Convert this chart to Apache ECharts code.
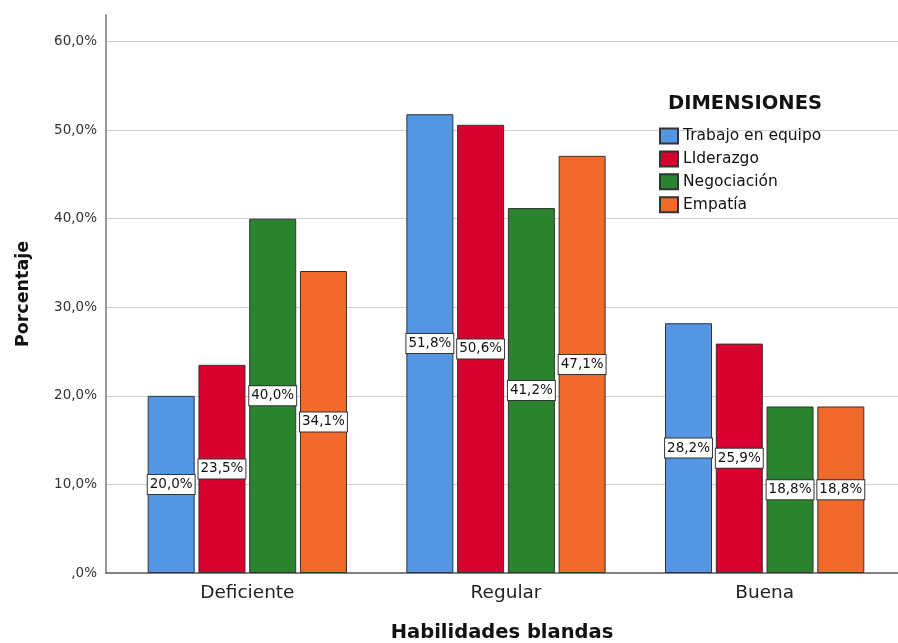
<!DOCTYPE html>
<html>
<head>
<meta charset="utf-8">
<script src="https://cdn.jsdelivr.net/npm/echarts@6/dist/echarts.min.js"></script>
<style>html,body{margin:0;padding:0;background:#fff}#c{width:898px;height:643px}</style>
</head>
<body>
<div id="c"></div>
<script>
const categories = ['Deficiente', 'Regular', 'Buena'];
const seriesNames = ['Trabajo en equipo', 'LIderazgo', 'Negociación', 'Empatía'];
const trabajo = [20.0, 51.8, 28.2];
const liderazgo = [23.5, 50.6, 25.9];
const negociacion = [40.0, 41.2, 18.8];
const empatia = [34.1, 47.1, 18.8];
const colors = ['#5596e4', '#d7002f', '#2b822f', '#f2692c'];
const yTicks = [0, 10, 20, 30, 40, 50, 60];

const fmt = v => (v === 0 ? ',0%' : v.toFixed(1).replace('.', ',') + '%');
const FONT = 'DejaVu Sans, sans-serif';

const chart = echarts.init(document.getElementById('c'));
const values = [trabajo, liderazgo, negociacion, empatia];
const series = values.map((d, i) => ({
  name: seriesNames[i],
  type: 'bar',
  xAxisIndex: 1,
  yAxisIndex: 1,
  data: d,
  barWidth: 47,
  barGap: '8%',
  itemStyle: { color: colors[i], borderColor: '#333', borderWidth: 1 },
  label: {
    show: true,
    position: 'inside',
    formatter: p => fmt(p.value),
    color: '#111',
    fontSize: 13.5,
    fontFamily: FONT,
    backgroundColor: '#fff',
    borderColor: '#333',
    borderWidth: 1,
    padding: [3, 2, 2, 2]
  },
  emphasis: { disabled: true }
}));

chart.setOption({
  animation: false,
  textStyle: { fontFamily: FONT },
  grid: [
    { left: 106, right: 0, top: 15, bottom: 70, outerBoundsMode: 'none', containLabel: false },
    { left: 118, right: 4, top: 15, bottom: 70, outerBoundsMode: 'none', containLabel: false }
  ],
  xAxis: [
    { gridIndex: 0, type: 'value', min: 0, max: 1, axisLine: { show: true, onZero: false, lineStyle: { color: '#555', width: 1.5 } }, axisTick: { show: false }, axisLabel: { show: false }, splitLine: { show: false },
      name: 'Habilidades blandas', nameLocation: 'middle', nameGap: 50, nameTextStyle: { fontSize: 19.5, fontWeight: 'bold', color: '#111', fontFamily: FONT } },
    { gridIndex: 1, type: 'category', data: categories, axisLine: { show: false }, axisTick: { show: false },
      axisLabel: { fontSize: 18.5, color: '#222', margin: 11, fontFamily: FONT } }
  ],
  yAxis: [
    { gridIndex: 0, type: 'value', min: 0, max: 63, interval: 10,
      axisLine: { show: true, lineStyle: { color: '#999', width: 2 } },
      axisTick: { show: false },
      axisLabel: { fontSize: 13.5, color: '#333', margin: 9, showMaxLabel: false, fontFamily: FONT,
        formatter: v => (yTicks.indexOf(v) >= 0 ? fmt(v) : '') },
      splitLine: { show: true, showMaxLine: false, showMinLine: false, lineStyle: { color: '#cfcfcf', width: 1 } },
      name: 'Porcentaje', nameLocation: 'middle', nameGap: 74, nameRotate: 90,
      nameTextStyle: { fontSize: 17.5, fontWeight: 'bold', color: '#111', fontFamily: FONT } },
    { gridIndex: 1, type: 'value', min: 0, max: 63, show: false, splitLine: { show: false } }
  ],
  legend: {
    orient: 'vertical',
    left: 659,
    top: 127.5,
    padding: 0,
    itemWidth: 18,
    itemHeight: 15,
    itemGap: 5.9,
    icon: 'rect',
    textStyle: { fontSize: 15.5, color: '#111', fontFamily: FONT },
    data: seriesNames,
    selectedMode: false
  },
  graphic: [
    { type: 'text', left: 668, top: 94, style: { text: 'DIMENSIONES', fontSize: 19.5, fontWeight: 'bold', fill: '#111', fontFamily: FONT } }
  ],
  series: series
});
</script>
</body>
</html>
